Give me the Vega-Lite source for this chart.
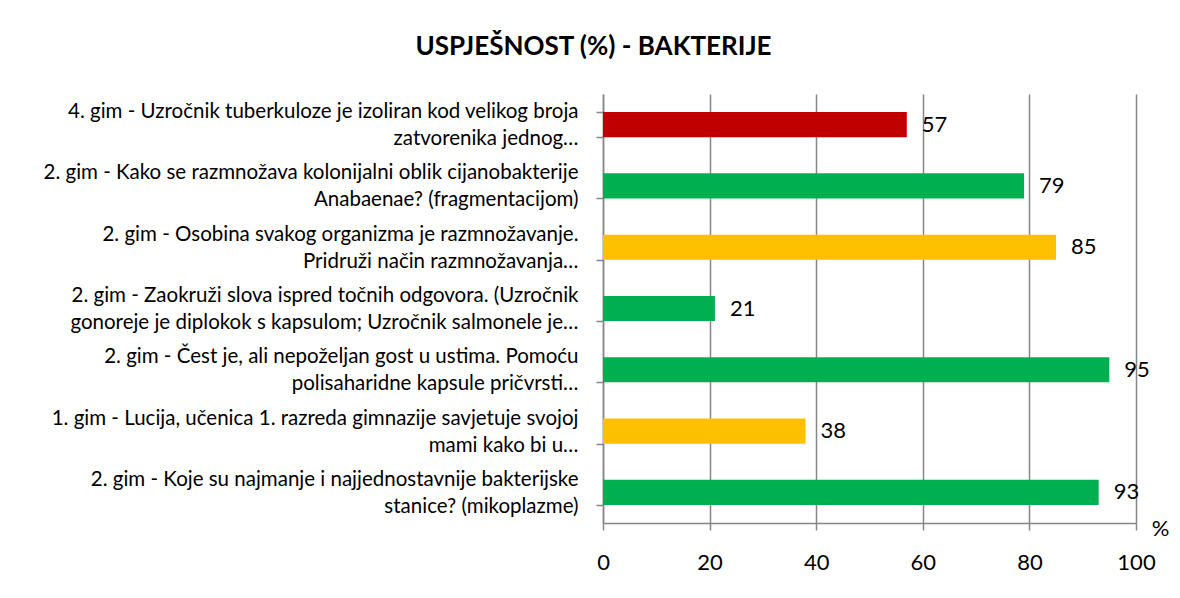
{
  "$schema": "https://vega.github.io/schema/vega-lite/v6.json",
  "width": 533,
  "height": 429,
  "autosize": {"type": "none"},
  "padding": {"left": 603, "top": 94, "right": 44, "bottom": 75},
  "background": "white",
  "title": {
    "text": "USPJEŠNOST (%) - BAKTERIJE",
    "font": "Lato",
    "fontSize": 26,
    "fontWeight": "bold",
    "color": "black",
    "anchor": "middle",
    "frame": "group",
    "dx": -276,
    "baseline": "middle",
    "offset": 11
  },
  "data": {
    "values": [
      {"pitanje": "4. gim - Uzročnik tuberkuloze je izoliran kod velikog broja|zatvorenika jednog…", "uspjesnost": 57, "razina": "niska"},
      {"pitanje": "2. gim - Kako se razmnožava kolonijalni oblik cijanobakterije|Anabaenae? (fragmentacijom)", "uspjesnost": 79, "razina": "visoka"},
      {"pitanje": "2. gim - Osobina svakog organizma je razmnožavanje.|Pridruži način razmnožavanja…", "uspjesnost": 85, "razina": "srednja"},
      {"pitanje": "2. gim - Zaokruži slova ispred točnih odgovora. (Uzročnik|gonoreje je diplokok s kapsulom; Uzročnik salmonele je…", "uspjesnost": 21, "razina": "visoka"},
      {"pitanje": "2. gim - Čest je, ali nepoželjan gost u ustima. Pomoću|polisaharidne kapsule pričvrsti…", "uspjesnost": 95, "razina": "visoka"},
      {"pitanje": "1. gim - Lucija, učenica 1. razreda gimnazije savjetuje svojoj|mami kako bi u…", "uspjesnost": 38, "razina": "srednja"},
      {"pitanje": "2. gim - Koje su najmanje i najjednostavnije bakterijske|stanice? (mikoplazme)", "uspjesnost": 93, "razina": "visoka"}
    ]
  },
  "encoding": {
    "y": {
      "field": "pitanje",
      "type": "nominal",
      "sort": null,
      "scale": {"paddingInner": 0.59, "paddingOuter": 0.295},
      "axis": {
        "title": null,
        "labelExpr": "split(datum.label, '|')",
        "labelFont": "Lato",
        "labelFontSize": 20.5,
        "labelLineHeight": 27,
        "labelColor": "black",
        "labelLimit": 600,
        "labelPadding": 18,
        "labelAlign": "right",
        "labelBaseline": "middle",
        "labelOffset": -13,
        "tickBand": "extent",
        "tickSize": 7,
        "tickColor": "#868686",
        "tickWidth": 1.5,
        "domainColor": "#868686",
        "domainWidth": 1.5,
        "grid": false
      }
    },
    "x": {
      "field": "uspjesnost",
      "type": "quantitative",
      "scale": {"domain": [0, 100], "nice": false},
      "axis": {
        "title": "%",
        "titleFont": "Lato",
        "titleFontSize": 22,
        "titleFontWeight": "normal",
        "titleColor": "black",
        "titleX": 557,
        "titleY": 5,
        "titleAlign": "center",
        "titleBaseline": "middle",
        "titleAnchor": null,
        "values": [0, 20, 40, 60, 80, 100],
        "labelFont": "Lato",
        "labelFontSize": 22,
        "labelColor": "black",
        "labelPadding": 22,
        "labelFlush": false,
        "tickSize": 7,
        "tickColor": "#868686",
        "tickWidth": 1.5,
        "domainColor": "#868686",
        "domainWidth": 1.5,
        "grid": true,
        "gridColor": "#868686",
        "gridWidth": 1.5
      }
    }
  },
  "layer": [
    {
      "mark": {"type": "bar"},
      "encoding": {
        "color": {
          "field": "razina",
          "type": "nominal",
          "scale": {"domain": ["niska", "srednja", "visoka"], "range": ["#C00000", "#FFC000", "#00B050"]},
          "legend": null
        }
      }
    },
    {
      "mark": {"type": "text", "align": "left", "baseline": "middle", "dx": 15, "font": "Lato", "fontSize": 22, "color": "black"},
      "encoding": {"text": {"field": "uspjesnost", "type": "quantitative"}}
    }
  ],
  "config": {"view": {"stroke": null}}
}
